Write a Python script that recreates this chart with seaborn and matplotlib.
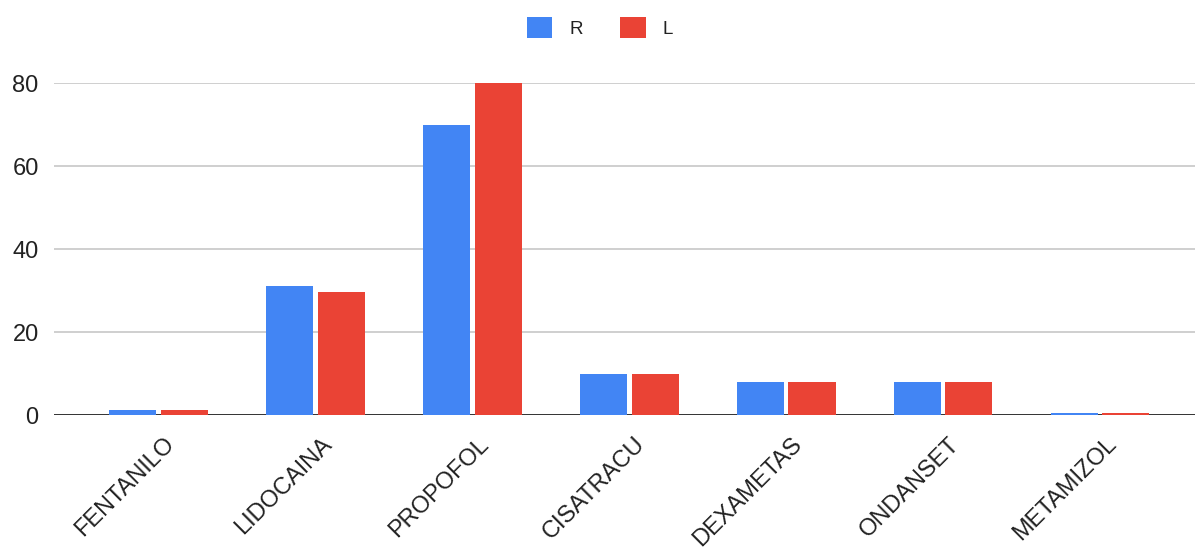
import matplotlib
matplotlib.use("Agg")
import matplotlib.pyplot as plt
import matplotlib.transforms as mtransforms
import pandas as pd
import seaborn as sns

# Drug usage per side (R / L)
drugs = ["FENTANILO", "LIDOCAINA", "PROPOFOL", "CISATRACU",
         "DEXAMETAS", "ONDANSET", "METAMIZOL"]
r_values = [1.1, 31.2, 70, 10, 8, 8, 0.6]
l_values = [1.1, 29.6, 80, 10, 8, 8, 0.6]
series_names = ["R", "L"]
y_ticks = [0, 20, 40, 60, 80]

df = pd.DataFrame({
    "drug": drugs * 2,
    "value": r_values + l_values,
    "side": [series_names[0]] * len(drugs) + [series_names[1]] * len(drugs),
})

sns.set_style("white")
plt.rcParams["font.family"] = ["Liberation Sans", "DejaVu Sans"]

fig = plt.figure(figsize=(11.95, 5.48), dpi=100)
ax = fig.add_axes([54 / 1195, 1 - 415 / 548, 1 - 54 / 1195, (415 - 83.3) / 548])

palette = {"R": "#4285F4", "L": "#EA4335"}
sns.barplot(data=df, x="drug", y="value", hue="side", palette=palette,
            width=0.658, gap=0.088, saturation=1, ax=ax, legend=True,
            linewidth=0, edgecolor="none")
for p in ax.patches:
    p.set_zorder(3)

ax.set_xlim(-0.666, 6.605)
ax.set_ylim(0, 80)
ax.set_yticks(y_ticks)
ax.set_xlabel("")
ax.set_ylabel("")
for s in ax.spines.values():
    s.set_visible(False)

ax.grid(axis="y", color="#cccccc", linewidth=1.3, zorder=0)
ax.set_axisbelow(True)
ax.axhline(0, color="#333333", linewidth=1.4, zorder=2)

ax.tick_params(axis="y", length=0, pad=11, labelsize=17, labelcolor="#222222")
ax.tick_params(axis="x", length=0, pad=13, labelsize=17, labelcolor="#222222")
offset = mtransforms.ScaledTranslation(5 / 100, 0, fig.dpi_scale_trans)
for lbl in ax.get_xticklabels():
    lbl.set_rotation(45)
    lbl.set_ha("right")
    lbl.set_va("top")
    lbl.set_rotation_mode("anchor")
    lbl.set_transform(lbl.get_transform() + offset)

handles, labels = ax.get_legend_handles_labels()
ax.get_legend().remove()
fig.legend(handles, labels, loc="center", bbox_to_anchor=(600 / 1195, 1 - 27.5 / 548),
           ncol=2, frameon=False, fontsize=13.5, handlelength=1.35, handleheight=1.35,
           handletextpad=0.9, columnspacing=2.0, borderaxespad=0,
           labelcolor="#222222")

fig.savefig("out.png", dpi=100)
